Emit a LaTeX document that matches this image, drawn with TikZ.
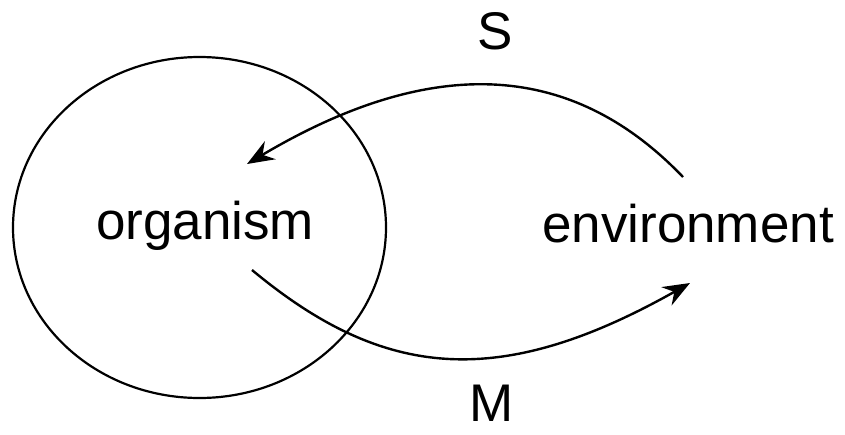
\documentclass[tikz,border=0pt]{standalone}
\usepackage{fontspec}
\setmainfont{Liberation Sans}
\usetikzlibrary{shapes.geometric,arrows.meta}
\begin{document}
\begin{tikzpicture}[x=1pt,y=-1pt,
  lbl/.style={font=\fontsize{53}{60}\selectfont, anchor=base, inner sep=0pt},
  conn/.style={line width=2.4pt, -{Stealth[length=27pt,width=21pt,inset=9pt]}}]
\useasboundingbox (0,0) rectangle (845,434);
\node[draw, ellipse, line width=2.2pt, minimum width=373pt, minimum height=341pt, inner sep=0pt] (body) at (199.5,227.5) {};
\node[lbl] (org) at (205,239) {organism};
\node[lbl] (env) at (688,242) {environment};
\node[lbl] (S) at (495,49) {S};
\node[lbl] (M) at (492,421) {M};
\coordinate (s1) at (683,177);
\coordinate (e1) at (247,164);
\coordinate (s2) at (252,270);
\coordinate (e2) at (690,283);
\draw[conn] (s1) .. controls (579.5,69) and (444,47) .. (e1);
\draw[conn] (s2) .. controls (383,379) and (498.6,390.8) .. (e2);
\end{tikzpicture}
\end{document}
